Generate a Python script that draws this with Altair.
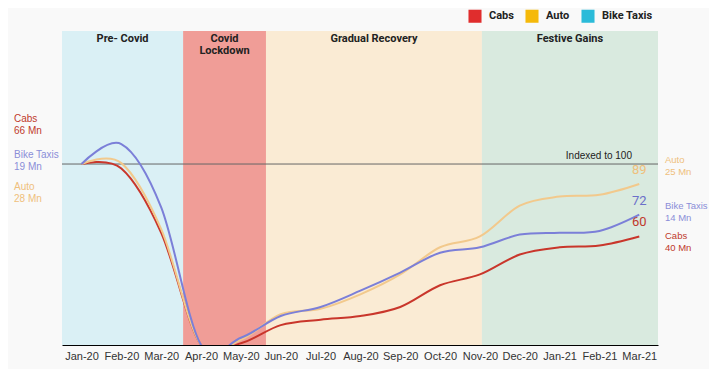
import altair as alt
import pandas as pd

months = ["Jan-20", "Feb-20", "Mar-20", "Apr-20", "May-20", "Jun-20", "Jul-20", "Aug-20",
          "Sep-20", "Oct-20", "Nov-20", "Dec-20", "Jan-21", "Feb-21", "Mar-21"]
cabs = [100, 97.5, 62, 0, 1, 11, 14, 16, 21, 33, 39, 50, 54, 55, 60]
auto = [100, 100.5, 64, 0, 3, 17, 20, 28, 39, 54, 60, 77, 82, 83, 89]
bike = [100, 111, 76, 0, 4, 16, 21, 30, 40, 51, 54, 61, 62, 63, 72]
series_names = ["Cabs", "Auto", "Bike Taxis"]
riders_start = ["66 Mn", "28 Mn", "19 Mn"]
riders_end = ["40 Mn", "25 Mn", "14 Mn"]

phases = ["Pre- Covid", "Covid\nLockdown", "Gradual Recovery", "Festive Gains"]
phase_start = [-0.49, 2.55, 4.63, 10.05]
phase_end = [2.55, 4.63, 10.05, 14.47]

# styles
line_colors = ["#c9362b", "#f2c98c", "#7b7fd8"]
legend_colors = ["#e02d2d", "#f5b90a", "#2bbbd9"]
label_colors = ["#c0392b", "#efc07c", "#8b8ed8"]
phase_colors = ["#daf0f5", "#f09d97", "#faebd4", "#d9eadf"]
FONT = "Roboto"
FONT2 = "Liberation Sans"
W, H = 596, 314

rows = []
for name, vals, col in zip(series_names, [cabs, auto, bike], line_colors):
    for i, v in enumerate(vals):
        rows.append({"series": name, "idx": i, "value": v, "col": col})
df = pd.DataFrame(rows)

end_df = pd.DataFrame({
    "series": series_names,
    "idx": [len(months) - 1] * 3,
    "value": [cabs[-1], auto[-1], bike[-1]],
    "label": [str(int(round(v))) for v in [cabs[-1], auto[-1], bike[-1]]],
    "col": ["#c0392b", "#efc07c", "#6b6fc9"],
})

phase_df = pd.DataFrame({"phase": phases, "start": phase_start, "end": phase_end, "col": phase_colors})

label_expr = "[" + ",".join(f"'{m}'" for m in months) + "][datum.value]"
x_axis = alt.Axis(values=list(range(len(months))), labelExpr=label_expr, title=None, ticks=False,
                  grid=False, domainColor="#000000", domainWidth=1, labelFont=FONT2, labelFontSize=11,
                  labelColor="#333333", labelPadding=5)
x_scale = alt.Scale(domain=[-0.49, 14.47], nice=False, zero=False)
y_scale = alt.Scale(domain=[0, 173.5], nice=False, zero=False)

bands = alt.Chart(phase_df).mark_rect().encode(
    x=alt.X("start:Q", scale=x_scale, axis=x_axis),
    x2="end:Q",
    y=alt.value(0),
    y2=alt.value(H),
    color=alt.Color("col:N", scale=None),
)

band_labels = alt.Chart(phase_df).transform_calculate(
    mid="(datum.start + datum.end) / 2"
).mark_text(font=FONT, fontSize=11, fontWeight="bold", color="#222222", baseline="top",
            lineBreak="\n", lineHeight=12).encode(
    x=alt.X("mid:Q", scale=x_scale, axis=x_axis),
    y=alt.value(2),
    text="phase:N",
)

rule = alt.Chart(pd.DataFrame({"v": [100]})).mark_rule(color="#666666", strokeWidth=1).encode(
    y=alt.Y("v:Q", scale=y_scale, axis=None),
    x=alt.value(0), x2=alt.value(W),
)
rule_label = alt.Chart(pd.DataFrame({"v": [100], "t": ["Indexed to 100"]})).mark_text(
    font=FONT2, fontSize=10, color="#222222", align="right", baseline="bottom", dy=-3
).encode(
    y=alt.Y("v:Q", scale=y_scale, axis=None),
    x=alt.value(570),
    text="t:N",
)

lines = alt.Chart(df).mark_line(interpolate="cardinal", strokeWidth=2, clip=True).encode(
    x=alt.X("idx:Q", scale=x_scale, axis=x_axis),
    y=alt.Y("value:Q", scale=y_scale, axis=None),
    color=alt.Color("col:N", scale=None),
    detail="series:N",
)

end_labels = alt.Chart(end_df).mark_text(font=FONT, fontSize=13, align="center", baseline="middle", dy=-14).encode(
    x=alt.X("idx:Q", scale=x_scale, axis=x_axis),
    y=alt.Y("value:Q", scale=y_scale, axis=None),
    text="label:N",
    color=alt.Color("col:N", scale=None),
)

legend_layer = alt.Chart(df).mark_square(size=0, opacity=0).encode(
    x=alt.X("idx:Q", scale=x_scale, axis=x_axis),
    y=alt.Y("value:Q", scale=y_scale, axis=None),
    fill=alt.Fill("series:N", scale=alt.Scale(domain=series_names, range=legend_colors),
                  legend=alt.Legend(orient="none", legendX=406, legendY=-22, direction="horizontal",
                                    title=None, symbolType="square", symbolSize=170, symbolOpacity=1,
                                    symbolStrokeWidth=0, labelFont=FONT, labelFontSize=11,
                                    labelFontWeight="bold", labelColor="#222222", columnPadding=11,
                                    labelOffset=7)),
)

# side annotations (layout positions in pixels relative to plot area)
left_pos = {"Cabs": 83, "Bike Taxis": 119, "Auto": 151}
right_pos = {"Auto": 124, "Bike Taxis": 170, "Cabs": 200}
side = []
for name, s, e, col in zip(series_names, riders_start, riders_end, label_colors):
    side.append(alt.Chart(alt.Data(values=[{}])).mark_text(
        font=FONT2, fontSize=10, fontWeight="normal", color=col, align="left", baseline="top",
        lineBreak="\n", lineHeight=12, text=f"{name}\n{s}").encode(
        x=alt.value(-48), y=alt.value(left_pos[name])))
    side.append(alt.Chart(alt.Data(values=[{}])).mark_text(
        font=FONT2, fontSize=9.5, fontWeight="normal", color=col, align="left", baseline="top",
        lineBreak="\n", lineHeight=12, text=f"{name}\n{e}").encode(
        x=alt.value(603), y=alt.value(right_pos[name])))

chart = alt.layer(bands, band_labels, rule, rule_label, lines, end_labels, legend_layer, *side).properties(
    width=W, height=H,
    autosize=alt.AutoSizeParams(type="none"),
    padding={"left": 54, "top": 23, "right": 51, "bottom": 24},
    background="#f9f9f9",
).configure_view(stroke=None)

chart.save("out.html", embed_options={"renderer": "svg", "actions": False})
